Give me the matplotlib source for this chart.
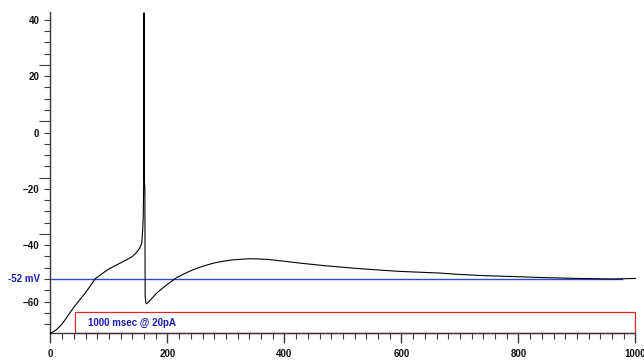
"""Membrane potential trace

Plots a single voltage trace in response to a current step, with a
reference line for the resting level and a box marking the stimulus.

"""
import numpy as np
import matplotlib
matplotlib.use("Agg")
import matplotlib.pyplot as plt
import matplotlib.patches as mpatches
import matplotlib.transforms as mtransforms


# Voltage trace (time in ms, voltage in mV)
T_MS = [0, 5, 10, 15, 20, 27, 33, 40, 50, 60, 68, 76, 85, 95, 102, 115,
        130, 140, 147, 152, 156, 157.5, 158.5, 159.2, 159.6, 159.9, 160.0,
        160.3, 161.3, 161.8, 163.0, 164.4, 167, 172, 181.5, 190, 198.6,
        215.7, 230, 244, 260, 278, 295, 312, 341, 370, 404, 428, 470, 520,
        560, 597, 631, 666, 700, 740, 785, 842, 900, 962, 1000]
V_MV = [-71.2, -70.7, -70.0, -69.0, -67.9, -65.9, -64.1, -62.0, -59.4,
        -56.8, -54.5, -52.0, -50.6, -49.1, -48.2, -46.8, -45.2, -44.0,
        -42.6, -41.2, -39.3, -35.0, -30.0, -20.0, 0.0, 42.5, 24.0, -16.0,
        -20.0, -58.0, -60.5, -60.8, -60.3, -59.2, -57.0, -55.5, -54.1,
        -51.5, -50.0, -48.7, -47.5, -46.4, -45.7, -45.2, -44.8, -45.0,
        -45.8, -46.4, -47.3, -48.2, -48.8, -49.3, -49.6, -49.9, -50.4,
        -50.8, -51.1, -51.5, -51.8, -52.0, -51.8]

REST_MV = -52
REST_END_MS = 977
REST_LABEL = "-52 mV"

STIM_START_MS = 42
STIM_END_MS = 1000
STIM_TOP_MV = -63.7
STIM_LABEL = "1000 msec @ 20pA"

X_TICKS = [0, 200, 400, 600, 800, 1000]
Y_TICKS = [-60, -40, -20, 0, 20, 40]
Y_LONG_TICKS = [24, 4, -16, -36]
XLIM = (0, 1000)
YLIM = (-71.35, 42.8)

FONT = "Liberation Sans"
BLUE_TEXT = "#1c1cb0"
BLUE_LINE = "#3348d0"
RED = "#d82828"
AXIS = "#3a3a3a"


def setup_axes(fig):
    """Create the axis with only left and bottom spines and odd tick layout."""
    ax = fig.add_axes([0.0784, 0.0813, 0.9084, 0.8857])
    for side in ["top", "right"]:
        ax.spines[side].set_visible(False)
    for side in ["left", "bottom"]:
        ax.spines[side].set_color(AXIS)
        ax.spines[side].set_linewidth(1.0)
    ax.set_xlim(*XLIM)
    ax.set_ylim(*YLIM)

    ax.set_xticks(X_TICKS)
    ax.set_xticks(np.arange(0, 1001, 20), minor=True)
    ax.set_yticks(Y_TICKS)
    minor_y = [v for v in np.arange(-68, 41, 4)
               if v not in Y_TICKS and v not in Y_LONG_TICKS]
    ax.set_yticks(minor_y, minor=True)

    ax.tick_params(axis="x", which="major", length=7, width=1.0,
                   color=AXIS, pad=4)
    ax.tick_params(axis="x", which="minor", length=4, width=0.8, color=AXIS)
    ax.tick_params(axis="y", which="both", length=4, width=0.8,
                   color=AXIS, pad=4)
    for lab in ax.get_xticklabels() + ax.get_yticklabels():
        lab.set_fontfamily(FONT)
        lab.set_fontweight("bold")
        lab.set_fontsize(7)
        lab.set_color("#111111")

    # longer unlabelled ticks on the voltage axis
    sec = ax.secondary_yaxis("left")
    sec.spines["left"].set_visible(False)
    sec.set_yticks(Y_LONG_TICKS)
    sec.set_yticklabels([])
    sec.tick_params(axis="y", length=8, width=0.8, color=AXIS)
    return ax


def draw(ax):
    """Draw trace, resting line, stimulus box and labels."""
    ax.plot([0, REST_END_MS], [REST_MV, REST_MV], color=BLUE_LINE, lw=1.0,
            zorder=2)
    ax.plot(T_MS, V_MV, color="black", lw=0.8, zorder=3, clip_on=False)

    box = mpatches.Rectangle((STIM_START_MS, YLIM[0]),
                             STIM_END_MS - STIM_START_MS,
                             STIM_TOP_MV - YLIM[0], fill=False,
                             edgecolor=RED, lw=0.9, clip_on=False, zorder=1)
    ax.add_patch(box)
    ax.text(STIM_START_MS + 22, (STIM_TOP_MV + YLIM[0]) / 2, STIM_LABEL,
            color=BLUE_TEXT, fontsize=7, fontweight="bold", family=FONT,
            va="center", ha="left")

    trans = mtransforms.blended_transform_factory(ax.transAxes, ax.transData)
    ax.text(-0.018, REST_MV, REST_LABEL, transform=trans, color=BLUE_TEXT,
            fontsize=7, fontweight="bold", family=FONT, va="center",
            ha="right")


def main():
    fig = plt.figure(figsize=(6.44, 3.63), dpi=100)
    ax = setup_axes(fig)
    draw(ax)
    fig.savefig("out.png", dpi=100)
    plt.close(fig)


if __name__ == "__main__":
    main()
